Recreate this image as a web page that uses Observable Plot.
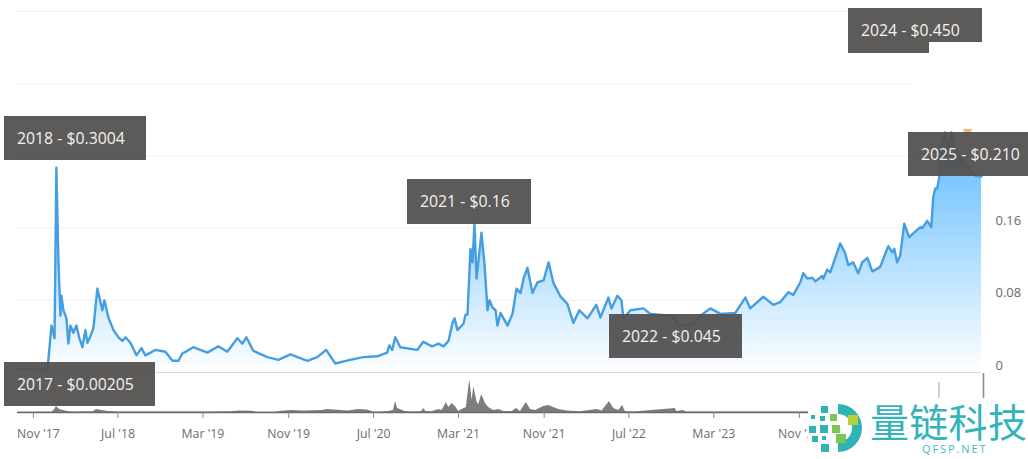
<!DOCTYPE html>
<html><head><meta charset="utf-8">
<script src="https://cdn.jsdelivr.net/npm/d3@7"></script>
<script src="https://cdn.jsdelivr.net/npm/@observablehq/plot@0.6"></script>
<style>
html,body{margin:0;padding:0;background:#fff;overflow:hidden}
#wrap{position:relative;width:1028px;height:459px;font-family:"Open Sans",sans-serif;overflow:hidden}
#price,#volume{position:absolute;left:0}
#price{top:0}#volume{top:373px}
#wrap svg{display:block}
.note{position:absolute;background:#535150;opacity:.94;color:#f4f3f1;font-size:15.8px;line-height:44px;padding-left:13px;box-sizing:border-box;white-space:nowrap}
#mark{position:absolute;left:808px;top:398px;width:220px;height:61px;background:#fff}
#mark .zh{position:absolute;left:62px;top:-5px;font:400 39px/54px "Noto Sans CJK SC";color:#35b3bb;white-space:nowrap;letter-spacing:.3px}
#mark .en{position:absolute;left:114px;top:44px;font:11px/14px "Open Sans";letter-spacing:1.9px;color:#45b9c0}
</style></head><body>
<div id="wrap">
<div id="price"></div><div id="volume"></div>
<div style="position:absolute;left:963px;top:129px;width:9px;height:3px;background:#f0b868;border-radius:0 0 5px 5px"></div>
<div class="note" style="left:4px;top:116px;width:142px;height:44px">2018 - $0.3004</div>
<div class="note" style="left:4px;top:362px;width:151px;height:44px">2017 - $0.00205</div>
<div class="note" style="left:407px;top:179px;width:124px;height:45px">2021 - $0.16</div>
<div class="note" style="left:609px;top:314px;width:133px;height:44px">2022 - $0.045</div>
<div class="note" style="left:848px;top:8px;width:134px;height:45px;clip-path:polygon(0 0,100% 0,100% 34px,81px 34px,81px 100%,0 100%)">2024 - $0.450</div>
<div class="note" style="left:908px;top:132px;width:120px;height:44px">2025 - $0.210</div>
<div id="mark">
<svg width="62" height="61" style="position:absolute;left:0;top:0">
<path d="M30 6A24 24 0 1 1 30 54L30 44A14 14 0 0 0 30 16Z" fill="#2fb3b5"/>
<g fill="#2fb3b5"><rect x="13" y="8" width="7" height="7"/><rect x="3" y="17" width="4" height="4"/><rect x="12" y="18" width="5" height="5"/><rect x="1" y="28" width="7" height="7"/><rect x="12" y="27" width="8" height="8"/><rect x="4" y="38" width="6" height="6"/><rect x="14" y="38" width="4" height="4"/><rect x="13" y="46" width="8" height="8"/></g>
<g fill="#7cc657"><rect x="22" y="16" width="7" height="7"/><rect x="24" y="27" width="8" height="8"/><rect x="28" y="36" width="10" height="9"/></g>
<rect x="40" y="17" width="10" height="10" fill="#b5d334"/>
</svg>
<div class="zh">量链科技</div><div class="en">QFSP.NET</div>
</div>
</div>
<script>
const priceYears = [
2017.708,2017.943,2017.951,2017.974,2017.998,2018.013,2018.029,2018.045,2018.052,2018.068,
2018.092,2018.107,2018.123,2018.146,2018.170,2018.193,2018.217,2018.240,2018.256,2018.279,
2018.303,2018.334,2018.373,2018.389,2018.420,2018.460,2018.499,2018.530,2018.554,2018.593,
2018.640,2018.679,2018.710,2018.788,2018.867,2018.922,2018.969,2019.000,2019.039,2019.086,
2019.196,2019.282,2019.352,2019.431,2019.470,2019.501,2019.556,2019.665,2019.752,2019.846,
2019.979,2020.057,2020.127,2020.198,2020.315,2020.417,2020.527,2020.605,2020.621,2020.644,
2020.668,2020.707,2020.840,2020.887,2020.957,2021.004,2021.044,2021.083,2021.114,2021.130,
2021.153,2021.200,2021.216,2021.231,2021.255,2021.271,2021.286,2021.302,2021.341,2021.365,
2021.388,2021.404,2021.427,2021.451,2021.466,2021.490,2021.545,2021.584,2021.615,2021.647,
2021.670,2021.701,2021.740,2021.780,2021.827,2021.866,2021.905,2021.960,2022.014,2022.061,
2022.108,2022.171,2022.241,2022.273,2022.335,2022.359,2022.406,2022.437,2022.453,2022.508,
2022.610,2022.664,2022.821,2022.860,2022.884,2023.001,2023.056,2023.134,2023.213,2023.330,
2023.385,2023.408,2023.447,2023.549,2023.627,2023.682,2023.745,2023.784,2023.839,2023.862,
2023.894,2023.933,2023.956,2024.011,2024.019,2024.050,2024.074,2024.113,2024.152,2024.191,
2024.215,2024.254,2024.293,2024.324,2024.364,2024.403,2024.465,2024.528,2024.559,2024.575,
2024.598,2024.622,2024.653,2024.692,2024.778,2024.794,2024.833,2024.865,2024.880,2024.896,
2024.911,2024.927,2024.951,2024.974,2024.997,2025.020,2025.052,2025.107,2025.170,2025.209,
2025.256];
const priceValues = [
.004,.003,.016,.052,.038,.227,.124,.063,.085,.069,
.060,.032,.052,.044,.052,.038,.028,.047,.033,.040,
.049,.093,.069,.080,.061,.047,.039,.035,.039,.033,
.019,.027,.019,.025,.023,.013,.013,.021,.024,.028,
.022,.029,.023,.038,.032,.039,.024,.017,.014,.020,
.013,.017,.025,.010,.014,.017,.018,.022,.030,.025,
.039,.028,.025,.034,.029,.032,.029,.035,.055,.060,
.047,.054,.064,.064,.137,.122,.166,.104,.155,.119,
.069,.080,.072,.069,.052,.066,.052,.065,.093,.088,
.104,.116,.088,.100,.102,.122,.099,.084,.076,.055,
.069,.060,.075,.061,.083,.071,.085,.080,.060,.069,
.071,.065,.063,.058,.052,.054,.063,.071,.065,.066,
.078,.083,.071,.084,.075,.078,.089,.086,.100,.110,
.104,.105,.101,.107,.104,.114,.111,.127,.143,.132,
.119,.122,.110,.122,.127,.112,.117,.140,.133,.137,
.122,.130,.165,.150,.161,.160,.168,.161,.194,.204,
.204,.216,.257,.266,.246,.266,.246,.235,.224,.218,
.217];

const volumeYears = [
2017.708,2017.980,2018.000,2018.013,2018.040,2018.070,2018.100,2018.150,2018.300,2018.330,
2018.370,2018.420,2018.500,2019.200,2019.375,2019.450,2019.550,2019.580,2019.720,2019.760,
2019.850,2019.950,2020.100,2020.135,2020.300,2020.380,2020.450,2020.500,2020.550,2020.615,
2020.654,2020.670,2020.686,2020.707,2020.746,2020.811,2020.876,2020.889,2020.910,2020.955,
2021.007,2021.033,2021.067,2021.085,2021.111,2021.137,2021.163,2021.189,2021.223,2021.249,
2021.268,2021.281,2021.307,2021.320,2021.343,2021.372,2021.398,2021.437,2021.477,2021.516,
2021.581,2021.615,2021.646,2021.693,2021.725,2021.764,2021.829,2021.868,2021.907,2021.946,
2022.012,2022.116,2022.247,2022.286,2022.343,2022.377,2022.416,2022.447,2022.468,2022.534,
2022.860,2022.870,2022.920,2022.950,2023.500,2024.900,2025.256];
const volumeValues = [
.3,.5,3,6,3,2,1,.5,.8,3,
2,1,.4,.5,.8,1.5,1.2,.3,.3,1,
2,1.5,2,3,1.5,3,2.5,.6,.5,1,
2,11,4,3,1,.5,1,4,1,.8,
3,2,10,5,9,6,1,3,5,33,
12,26,10,8,18,9,5,2,3,1,
1,4,1,10,3,2,6,7,5,3,
1.5,.8,3,1.5,11,4,2,7,1,.5,
4,1,2,.5,.5,.5,.5];

const spikeYears = [2024.925,2025.272];
const spikeValues = [30,39];
const spikeColors = ["#c4c4c4","#8c8c8c"];

const xTickYears = [2017,2018,2019,2019,2020,2021,2021,2022,2023,2023];
const xTickMonths = [10,6,2,10,6,2,10,6,2,10];
const yTicks = [0,.08,.16,.24];
const gridTicks = [.08,.16,.24,.40];
const shortGridTicks = [.32];

const fromYear = v => { const y = Math.floor(v); return new Date(Date.UTC(y,0,1) + (v-y)*365.25*864e5); };
const price = priceYears.map((v,i)=>({date:fromYear(v),value:priceValues[i]}));
const volume = volumeYears.map((v,i)=>({date:fromYear(v),value:volumeValues[i]}));
const spikes = spikeYears.map((v,i)=>({date:fromYear(v),value:spikeValues[i],color:spikeColors[i]}));
const xTicks = xTickYears.map((y,i)=>new Date(Date.UTC(y,xTickMonths[i],1)));
const xDomain = [fromYear(2017.708),fromYear(2025.256)];
const font = '"Open Sans",sans-serif';
const fmt = d3.utcFormat("%b '%y");

const gradient = () => {
  const defs = d3.create("svg:defs");
  const g = defs.append("linearGradient").attr("id","fade").attr("x1",0).attr("x2",0).attr("y1",0).attr("y2",1);
  g.append("stop").attr("offset","0%").attr("stop-color","#5dbbff");
  g.append("stop").attr("offset","45%").attr("stop-color","#a5d9ff");
  g.append("stop").attr("offset","100%").attr("stop-color","#ffffff");
  return defs.node();
};

document.getElementById("price").append(Plot.plot({
  width:1028,height:373,marginLeft:17,marginRight:47,marginTop:0,marginBottom:1,
  style:{background:"transparent",fontFamily:font},
  x:{type:"utc",domain:xDomain,axis:null},
  y:{domain:[0,.4122],axis:null},
  marks:[
    gradient,
    Plot.ruleY(gridTicks,{stroke:"#f1f1f1"}),
    Plot.ruleY(shortGridTicks,{stroke:"#f1f1f1",x1:xDomain[0],x2:fromYear(2024.72)}),
    Plot.areaY(price,{x:"date",y:"value",fill:"url(#fade)"}),
    Plot.lineY(price,{x:"date",y:"value",stroke:"#459ee2",strokeWidth:2.4,strokeLinejoin:"round"}),
    Plot.ruleY([0],{stroke:"#d9d9d9",strokeWidth:1.2}),
    Plot.axisY({anchor:"right",ticks:yTicks,tickSize:0,tickPadding:14,label:null,tickFormat:d=>d===0?"0":String(d),fontSize:13,fill:"#6a6a6a",textAnchor:"start",dy:-7})
  ]
}));

document.getElementById("volume").append(Plot.plot({
  width:1028,height:86,marginLeft:17,marginRight:45,marginTop:0,marginBottom:47,
  style:{background:"transparent",fontFamily:font},
  x:{type:"utc",domain:[xDomain[0],fromYear(2025.272)],axis:null},
  y:{domain:[0,39],axis:null},
  marks:[
    Plot.areaY(volume,{x:"date",y:"value",fill:"#7d7d7d"}),
    Plot.ruleX(spikes,{x:"date",y1:0,y2:"value",stroke:"color",strokeWidth:1.6}),
    Plot.ruleY([0],{stroke:"#6a6a6a",strokeWidth:1.3}),
    Plot.axisX({ticks:xTicks,tickSize:6,tickPadding:11,label:null,tickFormat:(d,i)=>i===0?"":fmt(d),fontSize:12.3,fontWeight:500,fill:"#6c6c6c",stroke:"#8a8a8a"}),
    Plot.axisX({ticks:xTicks.slice(0,1),tickSize:0,tickPadding:17,label:null,tickFormat:fmt,fontSize:12.3,fontWeight:500,fill:"#6c6c6c",dx:5})
  ]
}));
</script>
</body></html>
